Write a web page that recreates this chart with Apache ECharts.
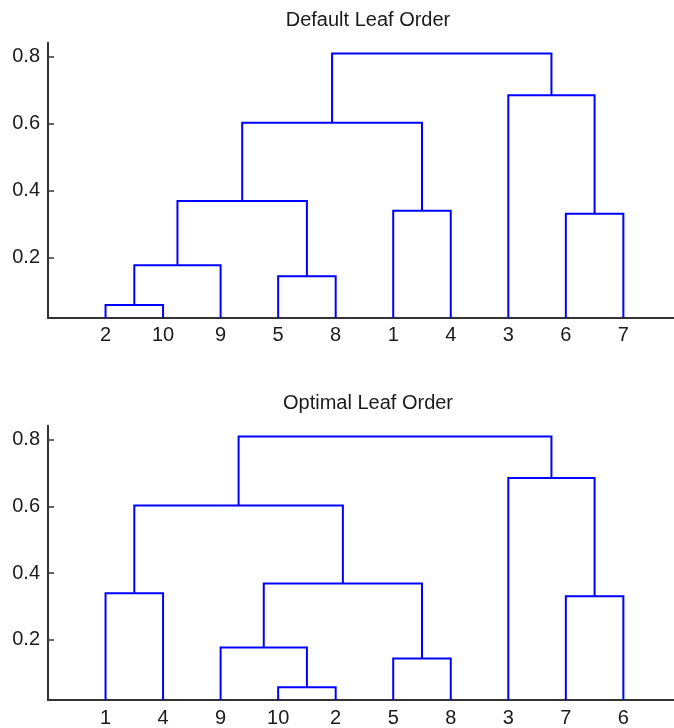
<!DOCTYPE html>
<html>
<head>
<meta charset="utf-8">
<script src="https://cdn.jsdelivr.net/npm/echarts@6/dist/echarts.min.js"></script>
<style>
html,body{margin:0;padding:0;background:#fff;}
#chart{width:674px;height:728px;}
</style>
</head>
<body>
<div id="chart"></div>
<script>
// ---- data ----
const titles = ['Default Leaf Order', 'Optimal Leaf Order'];
const defaultOrder = [2, 10, 9, 5, 8, 1, 4, 3, 6, 7];
const optimalOrder = [1, 4, 9, 10, 2, 5, 8, 3, 7, 6];
// linkage: cluster ids 1..10 are leaves, merge k creates cluster 11+k
const mergeLeft   = [2, 5, 11, 6, 1, 13, 16, 3, 17];
const mergeRight  = [10, 8, 9, 7, 4, 12, 15, 14, 18];
const mergeHeight = [0.058, 0.144, 0.177, 0.331, 0.340, 0.369, 0.603, 0.685, 0.810];
const yTicks = [0.2, 0.4, 0.6, 0.8];
const yMin = 0.02, yMax = 0.842;
const xMax = 10.88;

function buildLinks(order) {
  const pos = {}, hgt = {};
  order.forEach((leaf, i) => { pos[leaf] = i + 1; hgt[leaf] = yMin; });
  const out = [];
  mergeHeight.forEach((h, k) => {
    const l = mergeLeft[k], r = mergeRight[k], id = 11 + k;
    out.push({coords: [[pos[l], hgt[l]], [pos[l], h], [pos[r], h], [pos[r], hgt[r]]]});
    pos[id] = (pos[l] + pos[r]) / 2;
    hgt[id] = h;
  });
  return out;
}

const orders = [defaultOrder, optimalOrder];
const gridTops = [42.7, 425.7];
const titleTops = [5, 388];
const font = '"Liberation Sans", Arial, Helvetica, sans-serif';

const option = {
  animation: false,
  backgroundColor: '#ffffff',
  title: titles.map((t, i) => ({
    text: t, left: 363, top: titleTops[i], textAlign: 'center',
    textStyle: {fontFamily: font, fontSize: 20, fontWeight: 'normal', color: '#1a1a1a'}
  })),
  grid: gridTops.map(t => ({left: 48, right: 0, top: t, height: 275})),
  xAxis: orders.map((ord, i) => ({
    type: 'value', gridIndex: i, min: 0, max: xMax,
    axisLine: {show: true, onZero: false, lineStyle: {color: '#333333', width: 2}},
    axisTick: {show: false},
    splitLine: {show: false},
    axisLabel: {
      customValues: ord.map((_, j) => j + 1),
      formatter: v => String(ord[Math.round(v) - 1]),
      fontFamily: font, fontSize: 20, color: '#1a1a1a', margin: 8
    }
  })),
  yAxis: orders.map((_, i) => ({
    type: 'value', gridIndex: i, min: yMin, max: yMax,
    axisLine: {show: true, onZero: false, lineStyle: {color: '#333333', width: 2}},
    axisTick: {show: true, inside: true, length: 6, customValues: yTicks, lineStyle: {color: '#333333', width: 1.5}},
    splitLine: {show: false},
    axisLabel: {
      customValues: yTicks,
      formatter: v => v.toFixed(1),
      fontFamily: font, fontSize: 20, color: '#1a1a1a', margin: 8
    }
  })),
  series: orders.map((ord, i) => ({
    type: 'lines', coordinateSystem: 'cartesian2d', polyline: true,
    xAxisIndex: i, yAxisIndex: i, silent: true,
    lineStyle: {color: '#0000ff', width: 2, opacity: 1},
    data: buildLinks(ord)
  }))
};

const chart = echarts.init(document.getElementById('chart'), null, {renderer: 'canvas'});
chart.setOption(option);
</script>
</body>
</html>
